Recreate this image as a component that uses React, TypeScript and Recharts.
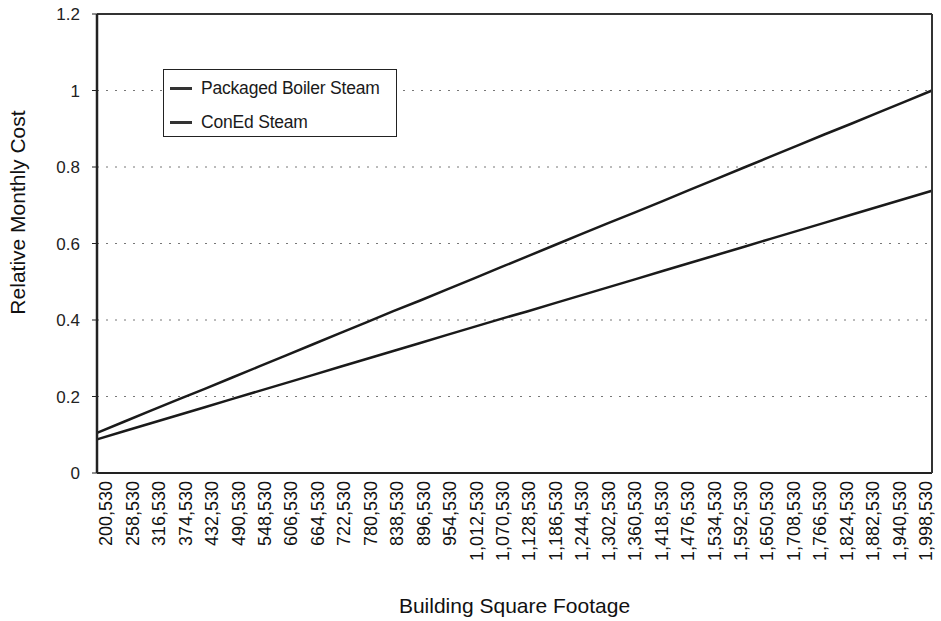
import { LineChart, Line, XAxis, YAxis, CartesianGrid, Legend, Label } from "recharts"

const footage = [
  "200,530", "258,530", "316,530", "374,530", "432,530", "490,530", "548,530", "606,530",
  "664,530", "722,530", "780,530", "838,530", "896,530", "954,530", "1,012,530", "1,070,530",
  "1,128,530", "1,186,530", "1,244,530", "1,302,530", "1,360,530", "1,418,530", "1,476,530",
  "1,534,530", "1,592,530", "1,650,530", "1,708,530", "1,766,530", "1,824,530", "1,882,530",
  "1,940,530", "1,998,530",
]

const boilerSteam = [
  0.105, 0.134, 0.163, 0.192, 0.22, 0.249, 0.278, 0.307, 0.336, 0.365, 0.394, 0.423, 0.451,
  0.48, 0.509, 0.538, 0.567, 0.596, 0.625, 0.654, 0.682, 0.711, 0.74, 0.769, 0.798, 0.827,
  0.856, 0.885, 0.913, 0.942, 0.971, 1.0,
]

const conEdSteam = [
  0.088, 0.109, 0.13, 0.151, 0.172, 0.193, 0.214, 0.235, 0.256, 0.277, 0.298, 0.319, 0.34,
  0.361, 0.382, 0.403, 0.423, 0.444, 0.465, 0.486, 0.507, 0.528, 0.549, 0.57, 0.591, 0.612,
  0.633, 0.654, 0.675, 0.696, 0.717, 0.738,
]

const yTicks = [0, 0.2, 0.4, 0.6, 0.8, 1, 1.2]

const data = footage.map((name, i) => ({
  name,
  boiler: boilerSteam[i],
  coned: conEdSteam[i],
}))

const FONT = "Arial, 'Liberation Sans', sans-serif"

// excel packs the rotated labels a bit tighter than the category points
const XTick = ({ x, y, payload, index }: any) => (
  <g transform={`translate(${x + 9 - 0.49 * index},${y})`}>
    <text
      transform="rotate(-90)"
      textAnchor="end"
      dy="0.35em"
      fontSize={18}
      fontFamily={FONT}
      fill="#111"
    >
      {payload.value}
    </text>
  </g>
)

const LegendBox = () => (
  <div
    style={{
      border: "1.5px solid #222",
      background: "#fff",
      width: 234,
      height: 68,
      boxSizing: "border-box",
      padding: "1px 0 0 6px",
      fontFamily: FONT,
      fontSize: 17.5,
      color: "#1a1a1a",
      textAlign: "left",
      letterSpacing: -0.2,
    }}
  >
    {["Packaged Boiler Steam", "ConEd Steam"].map((t) => (
      <div key={t} style={{ display: "flex", alignItems: "center", height: 34 }}>
        <span style={{ display: "inline-block", width: 22, height: 3, background: "#333", marginRight: 9 }} />
        {t}
      </div>
    ))}
  </div>
)

export default function App() {
  return (
    <div style={{ position: "absolute", left: 0, top: 0, width: 941, height: 621, background: "#fff" }}>
      <LineChart
        width={941}
        height={621}
        data={data}
        margin={{ top: 12, right: 7, left: 0, bottom: 0 }}
      >
        <CartesianGrid
          horizontal
          vertical={false}
          stroke="#777"
          strokeDasharray="2 7"
          horizontalValues={[0.2, 0.4, 0.6, 0.8, 1]}
        />
        <XAxis
          dataKey="name"
          height={148}
          interval={0}
          tick={<XTick />}
          tickLine={false}
          axisLine={{ stroke: "#222", strokeWidth: 2 }}
        >
          <Label
            value="Building Square Footage"
            position="insideBottom"
            offset={8}
            style={{ fontFamily: FONT, fontSize: 21, fill: "#111" }}
          />
        </XAxis>
        {/* top and right axes only draw the plot frame */}
        <XAxis
          xAxisId="top"
          orientation="top"
          dataKey="name"
          height={2}
          tick={false}
          tickLine={false}
          axisLine={{ stroke: "#333", strokeWidth: 2 }}
        />
        <YAxis
          width={97}
          domain={[0, 1.2]}
          ticks={yTicks}
          interval={0}
          tickSize={5}
          tickMargin={12}
          tickLine={{ stroke: "#222" }}
          axisLine={{ stroke: "#222", strokeWidth: 2.5 }}
          tick={{ fontFamily: FONT, fontSize: 17, fill: "#222" }}
          tickFormatter={(v: number) => String(v)}
        >
          <Label
            value="Relative Monthly Cost"
            angle={-90}
            position="insideLeft"
            offset={18}
            dy={-31}
            style={{ fontFamily: FONT, fontSize: 21, fill: "#111", textAnchor: "middle" }}
          />
        </YAxis>
        <YAxis
          yAxisId="right"
          orientation="right"
          width={2}
          domain={[0, 1.2]}
          tick={false}
          tickLine={false}
          axisLine={{ stroke: "#333", strokeWidth: 2 }}
        />
        <Legend
          layout="vertical"
          verticalAlign="middle"
          align="center"
          content={<LegendBox />}
          wrapperStyle={{ position: "absolute", left: 163, top: 69, width: 234 }}
        />
        <Line
          type="linear"
          dataKey="boiler"
          name="Packaged Boiler Steam"
          stroke="#1a1a1a"
          strokeWidth={2.5}
          dot={false}
          isAnimationActive={false}
        />
        <Line
          type="linear"
          dataKey="coned"
          name="ConEd Steam"
          stroke="#1a1a1a"
          strokeWidth={2.5}
          dot={false}
          isAnimationActive={false}
        />
      </LineChart>
    </div>
  )
}
